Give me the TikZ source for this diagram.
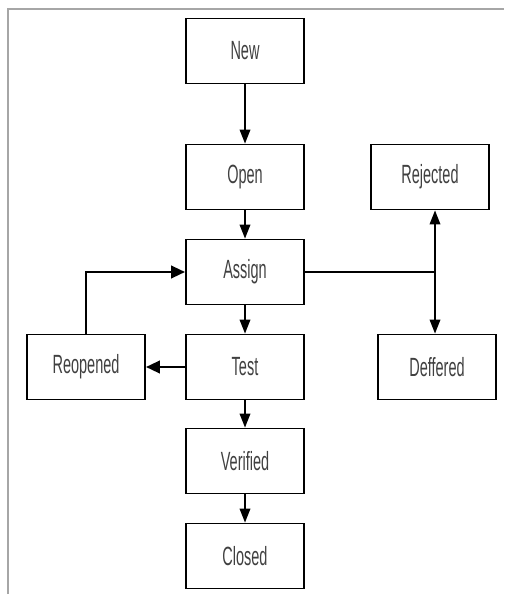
\documentclass[tikz,border=0pt]{standalone}
\usepackage{fontspec}
\usepackage{tikz}
\usetikzlibrary{positioning,arrows.meta}
\newfontfamily\boxfont[FakeStretch=0.55]{Liberation Sans}

\tikzset{
    state/.style={draw, line width=1pt, minimum width=2.36cm, minimum height=1.3cm,
        font=\boxfont\fontsize{15}{17}\selectfont, text=black!75},
    flow/.style={line width=1pt, -{Triangle[length=8pt,width=6pt]}},
    back/.style={line width=1.7pt, -{Triangle[length=8pt,width=7pt]}}
}

\begin{document}
\begin{tikzpicture}[x=0.02cm, y=-0.02cm]
        \useasboundingbox (0,0) rectangle (504,598);

        % Frame
        \draw[line width=1.2pt, gray!70] (8,594) -- (8,9) -- (504,9);

        % Main path
        \node[state] (new) at (245,51) {New};
        \node[state] (open) at (245,177) {Open};
        \node[state] (assign) at (245,272) {Assign};
        \node[state] (test) at (245,367) {Test};
        \node[state] (verified) at (245,461) {Verified};
        \node[state] (closed) at (245,556) {Closed};

        % Side states
        \node[state] (reopened) at (86,367) {Reopened};
        \node[state] (rejected) at (430,177) {Rejected};
        \node[state] (deffered) at (437,367) {Deffered};

        % Arrows down
        \draw[flow] (new) -- (open);
        \draw[flow] (open) -- (assign);
        \draw[flow] (assign) -- (test);
        \draw[flow] (test) -- (verified);
        \draw[flow] (verified) -- (closed);

        % Reopen loop
        \draw[back] (test) -- (reopened);
        \draw[back] (reopened.north) |- (assign.west);

        % Split to rejected / deffered
        \coordinate (split) at (435,272);
        \draw[line width=1pt] (assign.east) -- (split);
        \draw[flow] (split) -- (split |- rejected.south);
        \draw[flow] (split) -- (split |- deffered.north);
    \end{tikzpicture}
\end{document}
